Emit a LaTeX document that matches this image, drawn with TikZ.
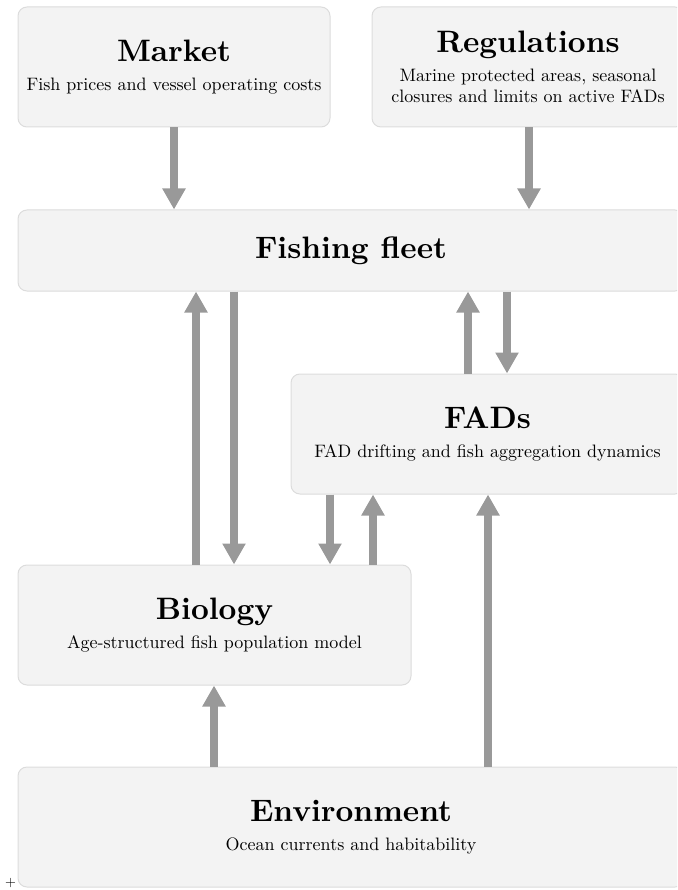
\documentclass[tikz,border=0pt]{standalone}
\usepackage{fontspec}
\setmainfont{lmroman10-regular.otf}[BoldFont=lmroman10-bold.otf, ItalicFont=lmroman10-italic.otf]
\usetikzlibrary{arrows.meta}
\definecolor{boxfill}{HTML}{F3F3F3}
\definecolor{boxline}{HTML}{DCDCDC}
\definecolor{arrgray}{HTML}{999999}
\newcommand{\boxtitle}[1]{{\fontsize{31}{37}\selectfont\bfseries #1}}
\begin{document}
\begin{tikzpicture}[x=1pt,y=-1pt,
  box/.style={draw=boxline, line width=1pt, fill=boxfill, rounded corners=9pt,
    align=center, inner sep=0pt, font=\fontsize{18}{21.6}\selectfont},
  arr/.style={draw=arrgray, line width=8pt, -{Triangle[width=22pt,length=21pt]}}]
\useasboundingbox (0,0) rectangle (677,890);
\clip (0,0) rectangle (677,890);

\node[box, minimum width=312pt, minimum height=120pt] (market) at (174,67)
  {\boxtitle{Market}\\[7pt]Fish prices and vessel operating costs};
\node[box, minimum width=312pt, minimum height=120pt] (regs) at (528,67)
  {\boxtitle{Regulations}\\[7pt]Marine protected areas, seasonal\\closures and limits on active FADs};
\node[box, minimum width=666pt, minimum height=81pt] (fleet) at (351,250.5)
  {\boxtitle{Fishing fleet}};
\node[box, minimum width=393pt, minimum height=120pt] (fads) at (487.5,434)
  {\boxtitle{FADs}\\[7pt]FAD drifting and fish aggregation dynamics};
\node[box, minimum width=393pt, minimum height=120pt] (bio) at (214.5,625)
  {\boxtitle{Biology}\\[7pt]Age-structured fish population model};
\node[box, minimum width=666pt, minimum height=120pt] (env) at (351,827)
  {\boxtitle{Environment}\\[7pt]Ocean currents and habitability};
\node[font=\fontsize{14}{14}\selectfont, inner sep=0pt] (plus) at (10.5,883) {+};

\coordinate (xa) at (174,0);
\coordinate (xb) at (529,0);
\coordinate (xc) at (196,0);
\coordinate (xd) at (234,0);
\coordinate (xe) at (468,0);
\coordinate (xf) at (507,0);
\coordinate (xg) at (330,0);
\coordinate (xh) at (373,0);
\coordinate (xi) at (214,0);
\coordinate (xj) at (488,0);

\draw[arr] (xa |- market.south) -- (xa |- fleet.north);
\draw[arr] (xb |- regs.south) -- (xb |- fleet.north);
\draw[arr] (xc |- bio.north) -- (xc |- fleet.south);
\draw[arr] (xd |- fleet.south) -- (xd |- bio.north);
\draw[arr] (xe |- fads.north) -- (xe |- fleet.south);
\draw[arr] (xf |- fleet.south) -- (xf |- fads.north);
\draw[arr] (xg |- fads.south) -- (xg |- bio.north);
\draw[arr] (xh |- bio.north) -- (xh |- fads.south);
\draw[arr] (xi |- env.north) -- (xi |- bio.south);
\draw[arr] (xj |- env.north) -- (xj |- fads.south);
\end{tikzpicture}
\end{document}
